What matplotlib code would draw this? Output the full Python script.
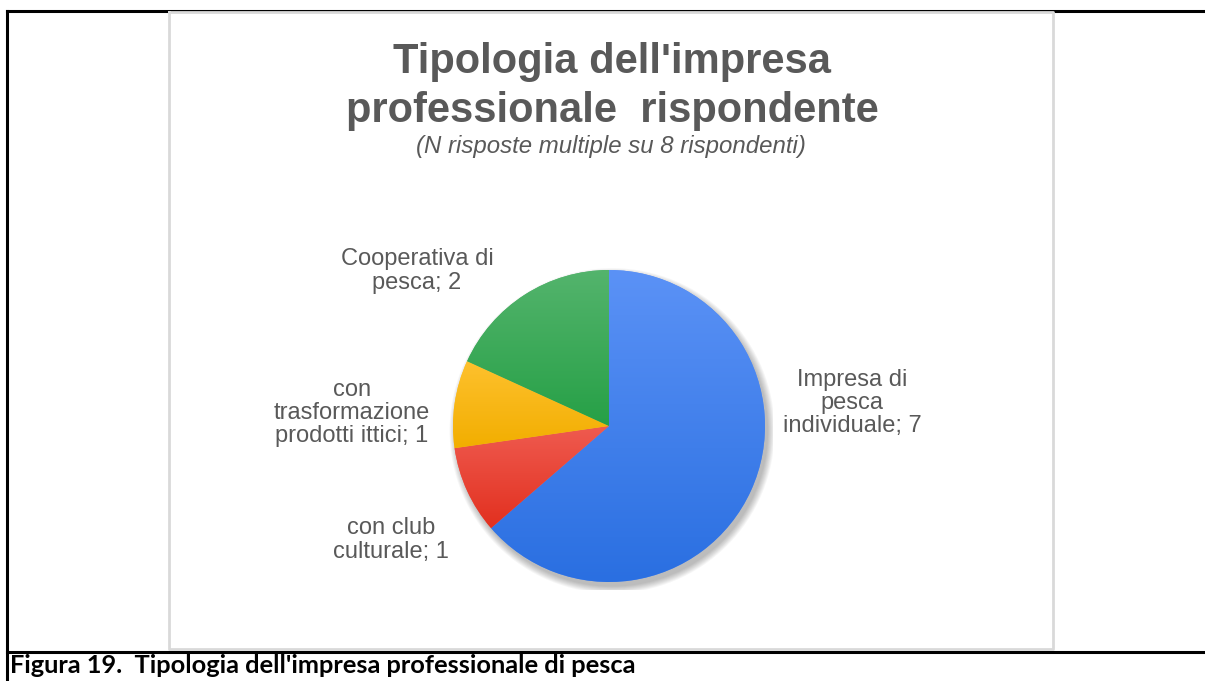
import numpy as np
import matplotlib
matplotlib.use("Agg")
import matplotlib.pyplot as plt
from matplotlib.colors import LinearSegmentedColormap
from matplotlib.patches import Circle

# dati
categorie = ["Impresa di\npesca\nindividuale", "con club\nculturale",
             "con\ntrasformazione\nprodotti ittici", "Cooperativa di\npesca"]
valori = [7, 1, 1, 2]
colori_alto = ["#5b92f6", "#ef5b50", "#fec12e", "#54b46d"]
colori_basso = ["#2a6fe1", "#e2301f", "#f2ae00", "#26a046"]

W, H = 1205, 681
fig = plt.figure(figsize=(W / 100, H / 100), dpi=100)
fig.patch.set_facecolor("white")


def fx(x):
    return x / W


def fy(y):
    return 1 - y / H


# cornici
bordo = fig.add_axes([0, 0, 1, 1])
bordo.set_xlim(0, W)
bordo.set_ylim(H, 0)
bordo.axis("off")
bordo.plot([7, 7], [11, H], color="black", lw=2.2)
bordo.plot([7, W], [11, 11], color="black", lw=2.2)
bordo.plot([7, W], [652, 652], color="black", lw=2.2)
bordo.plot([169, 1053, 1053, 169, 169], [12, 12, 649, 649, 12], color="#d9d9d9", lw=2)

# torta
cx, cy, r = 609, 426, 156
ax = fig.add_axes([fx(cx - r * 1.05), fy(cy + r * 1.05), 2.1 * r / W, 2.1 * r / H])
ax.axis("off")

# ombra
for i in range(8):
    ax.add_patch(Circle((0.02, -0.03), 1.0 + 0.006 * i, color="#000000",
                        alpha=0.035, lw=0, zorder=0))

wedges, _ = ax.pie(valori, startangle=90, counterclock=False, radius=1,
                   colors=colori_alto, wedgeprops=dict(lw=0))
for w, c1, c2 in zip(wedges, colori_alto, colori_basso):
    w.set_zorder(1)
    cmap = LinearSegmentedColormap.from_list("g", [c1, c2])
    ext = w.get_path().get_extents()
    grad = np.linspace(0, 1, 256).reshape(-1, 1)
    im = ax.imshow(grad, cmap=cmap, extent=[-1, 1, ext.y0, ext.y1],
                   origin="upper", aspect="auto", zorder=2)
    im.set_clip_path(w)
ax.set_xlim(-1.05, 1.05)
ax.set_ylim(-1.05, 1.05)
ax.set_aspect("equal")

# titoli
grigio = "#595959"
fig.text(fx(612), fy(73), "Tipologia dell'impresa", ha="center", va="baseline",
         fontsize=30, fontweight="bold", color=grigio, family="Liberation Sans")
fig.text(fx(612), fy(122), "professionale  rispondente", ha="center", va="baseline",
         fontsize=30, fontweight="bold", color=grigio, family="Liberation Sans")
fig.text(fx(611), fy(153), "(N risposte multiple su 8 rispondenti)", ha="center",
         va="baseline", fontsize=17.3, style="italic", color=grigio,
         family="Liberation Sans")

# etichette
pos_etichette = [(852, 403), (391, 540), (352, 413), (417, 271)]
for cat, v, (x, y) in zip(categorie, valori, pos_etichette):
    fig.text(fx(x), fy(y), f"{cat}; {v}", ha="center", va="center", fontsize=17,
             color=grigio, family="Liberation Sans", linespacing=1.08)

# didascalia
fig.text(fx(10), fy(673), "Figura 19.  Tipologia dell'impresa professionale di pesca",
         ha="left", va="baseline", fontsize=18.3, fontweight="bold", color="black",
         family="Lato")

fig.savefig("out.png", dpi=100)
